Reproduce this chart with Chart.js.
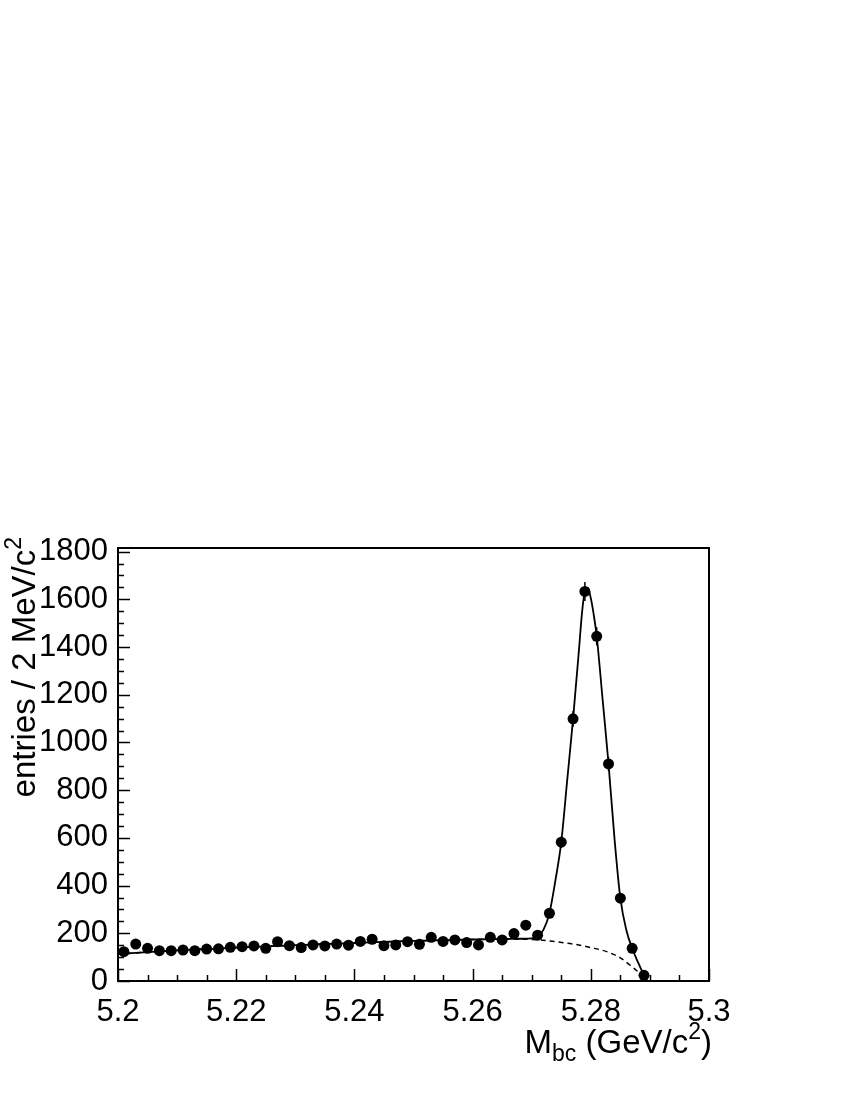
<!DOCTYPE html>
<html>
<head>
<meta charset="utf-8">
<script src="https://cdn.jsdelivr.net/npm/chart.js@4/dist/chart.umd.min.js"></script>
<style>
  html, body { margin: 0; padding: 0; background: #fff; }
  #mbc { display: block; }
</style>
</head>
<body>
<canvas id="mbc" width="850" height="1100"></canvas>
<script>
// ── DATA ─────────────────────────────
const massBins = [
  5.201, 5.203, 5.205, 5.207, 5.209, 5.211, 5.213, 5.215, 5.217, 5.219,
  5.221, 5.223, 5.225, 5.227, 5.229, 5.231, 5.233, 5.235, 5.237, 5.239,
  5.241, 5.243, 5.245, 5.247, 5.249, 5.251, 5.253, 5.255, 5.257, 5.259,
  5.261, 5.263, 5.265, 5.267, 5.269, 5.271, 5.273, 5.275, 5.277, 5.279,
  5.281, 5.283, 5.285, 5.287, 5.289
];
const entries = [
  123, 155, 137, 127, 127, 130, 127, 134, 135, 141,
  144, 147, 137, 165, 148, 140, 151, 147, 155, 150,
  166, 175, 148, 151, 165, 154, 183, 166, 172, 161,
  151, 183, 172, 199, 234, 192, 284, 582, 1099, 1633,
  1445, 910, 347, 137, 24
];
const entryErrors = [
  11, 12, 12, 11, 11, 11, 11, 12, 12, 12,
  12, 12, 12, 13, 12, 12, 12, 12, 12, 12,
  13, 13, 12, 12, 13, 12, 14, 13, 13, 13,
  12, 14, 13, 14, 15, 14, 17, 24, 33, 40,
  38, 30, 19, 12, 5
];

// total fit (solid)
const fitMass = [
  5.200, 5.205, 5.210, 5.215, 5.220, 5.225, 5.230, 5.235, 5.240, 5.245,
  5.250, 5.255, 5.260, 5.265, 5.268, 5.270, 5.271, 5.272, 5.273, 5.274,
  5.275, 5.276, 5.277, 5.278, 5.2785, 5.279, 5.2795, 5.280, 5.2805, 5.281,
  5.282, 5.283, 5.284, 5.285, 5.286, 5.287, 5.288, 5.289, 5.2895
];
const fitTotal = [
  113, 121, 128, 134, 140, 145, 150, 155, 159, 164,
  168, 171, 174, 176, 177, 179, 185, 215, 284, 420,
  582, 840, 1099, 1389, 1540, 1635, 1648, 1605, 1535, 1445,
  1180, 910, 600, 347, 215, 137, 78, 24, 0
];

// background only (dashed)
const bkgMass = [
  5.200, 5.210, 5.220, 5.230, 5.240, 5.250, 5.260, 5.265, 5.2714, 5.274,
  5.277, 5.280, 5.2827, 5.285, 5.2866, 5.2886, 5.2895
];
const bkgFit = [
  113, 128, 140, 150, 159, 168, 174, 176, 172, 165,
  155, 140, 123, 97, 67, 25, 0
];

const xTickLabels = [5.2, 5.22, 5.24, 5.26, 5.28, 5.3];
const yTickLabels = [0, 200, 400, 600, 800, 1000, 1200, 1400, 1600, 1800];

// ── HELPERS ─────────────────────────────
const FONT = "'Liberation Sans', Arial, Helvetica, sans-serif";

function toPoints(xs, ys) {
  return xs.map((x, i) => ({ x: x, y: ys[i] }));
}

// error bars on the data points
const errorBarPlugin = {
  id: "errorBars",
  afterDatasetsDraw(chart) {
    const ctx = chart.ctx;
    const xs = chart.scales.x, ys = chart.scales.y;
    ctx.save();
    ctx.strokeStyle = "#000";
    ctx.lineWidth = 1.5;
    massBins.forEach((m, i) => {
      const px = xs.getPixelForValue(m);
      const y1 = ys.getPixelForValue(entries[i] - entryErrors[i]);
      const y2 = ys.getPixelForValue(entries[i] + entryErrors[i]);
      ctx.beginPath();
      ctx.moveTo(px, y1);
      ctx.lineTo(px, y2);
      ctx.stroke();
    });
    ctx.restore();
  }
};

// draw a run of text pieces (for sub/superscripts)
function drawPieces(ctx, pieces, x, y) {
  pieces.forEach(p => {
    ctx.font = p.f;
    ctx.fillText(p.t, x, y + p.dy);
    x += ctx.measureText(p.t).width;
  });
}
function piecesWidth(ctx, pieces) {
  let w = 0;
  pieces.forEach(p => { ctx.font = p.f; w += ctx.measureText(p.t).width; });
  return w;
}

// ROOT style frame, inside ticks and axis titles
const framePlugin = {
  id: "frame",
  afterDraw(chart) {
    const ctx = chart.ctx;
    const a = chart.chartArea;
    const xs = chart.scales.x, ys = chart.scales.y;
    ctx.save();
    ctx.strokeStyle = "#000";
    ctx.lineWidth = 2;
    ctx.strokeRect(a.left, a.top, a.right - a.left, a.bottom - a.top);

    // y ticks: major every 200, minor every 50
    ctx.lineWidth = 1.5;
    for (let v = 0; v <= ys.max; v += 50) {
      const py = Math.round(ys.getPixelForValue(v)) + 0.5;
      const len = (v % 200 === 0) ? 12 : 6;
      ctx.beginPath();
      ctx.moveTo(a.left, py);
      ctx.lineTo(a.left + len, py);
      ctx.stroke();
    }
    // x ticks: major every 0.02, minor every 0.005
    for (let k = 0; k <= 20; k++) {
      const v = 5.2 + k * 0.005;
      const px = Math.round(xs.getPixelForValue(v)) + 0.5;
      const len = (k % 4 === 0) ? 12 : 6;
      ctx.beginPath();
      ctx.moveTo(px, a.bottom);
      ctx.lineTo(px, a.bottom - len);
      ctx.stroke();
    }

    ctx.fillStyle = "#000";
    ctx.textBaseline = "alphabetic";
    ctx.textAlign = "left";
    const big = "33px " + FONT, small = "23px " + FONT;

    // x title: M_bc (GeV/c^2), right aligned to the frame
    const xt = [
      { t: "M", f: big, dy: 0 },
      { t: "bc", f: small, dy: 8 },
      { t: " (GeV/c", f: big, dy: 0 },
      { t: "2", f: small, dy: -14 },
      { t: ")", f: big, dy: 0 }
    ];
    drawPieces(ctx, xt, a.right + 3 - piecesWidth(ctx, xt), 1053);

    // y title: entries / 2 MeV/c^2, rotated, ending near the top
    const yt = [
      { t: "entries / 2 MeV/c", f: big, dy: 0 },
      { t: "2", f: small, dy: -14 }
    ];
    ctx.translate(35, 537);
    ctx.rotate(-Math.PI / 2);
    drawPieces(ctx, yt, -piecesWidth(ctx, yt), 0);
    ctx.restore();
  }
};

// ── CHART ─────────────────────────────
new Chart(document.getElementById("mbc").getContext("2d"), {
  type: "scatter",
  data: {
    datasets: [
      {
        label: "background",
        data: toPoints(bkgMass, bkgFit),
        showLine: true,
        borderColor: "#000",
        borderWidth: 1.5,
        borderDash: [5, 4],
        pointRadius: 0,
        cubicInterpolationMode: "monotone",
        order: 3
      },
      {
        label: "fit",
        data: toPoints(fitMass, fitTotal),
        showLine: true,
        borderColor: "#000",
        borderWidth: 1.8,
        pointRadius: 0,
        cubicInterpolationMode: "monotone",
        order: 2
      },
      {
        label: "data",
        data: toPoints(massBins, entries),
        showLine: false,
        pointRadius: 5.5,
        pointBackgroundColor: "#000",
        pointBorderColor: "#000",
        pointBorderWidth: 0,
        order: 1
      }
    ]
  },
  options: {
    responsive: false,
    animation: false,
    devicePixelRatio: 1,
    layout: { padding: { top: 548, right: 141, left: 0, bottom: 0 } },
    plugins: {
      legend: { display: false },
      tooltip: { enabled: false }
    },
    scales: {
      x: {
        type: "linear",
        min: 5.2,
        max: 5.3,
        grid: { display: false },
        border: { display: false },
        afterBuildTicks: s => { s.ticks = xTickLabels.map(v => ({ value: v })); },
        afterFit: s => { s.height = 119; },
        ticks: {
          color: "#000",
          padding: 5,
          maxRotation: 0,
          font: { family: FONT, size: 31 },
          callback: v => String(Number(v.toFixed(2)))
        }
      },
      y: {
        type: "linear",
        min: 0,
        max: 1815,
        grid: { display: false },
        border: { display: false },
        afterBuildTicks: s => { s.ticks = yTickLabels.map(v => ({ value: v })); },
        afterFit: s => { s.width = 118; },
        ticks: {
          color: "#000",
          padding: 2,
          font: { family: FONT, size: 31 },
          callback: v => String(v)
        }
      }
    }
  },
  plugins: [errorBarPlugin, framePlugin]
});
</script>
</body>
</html>
